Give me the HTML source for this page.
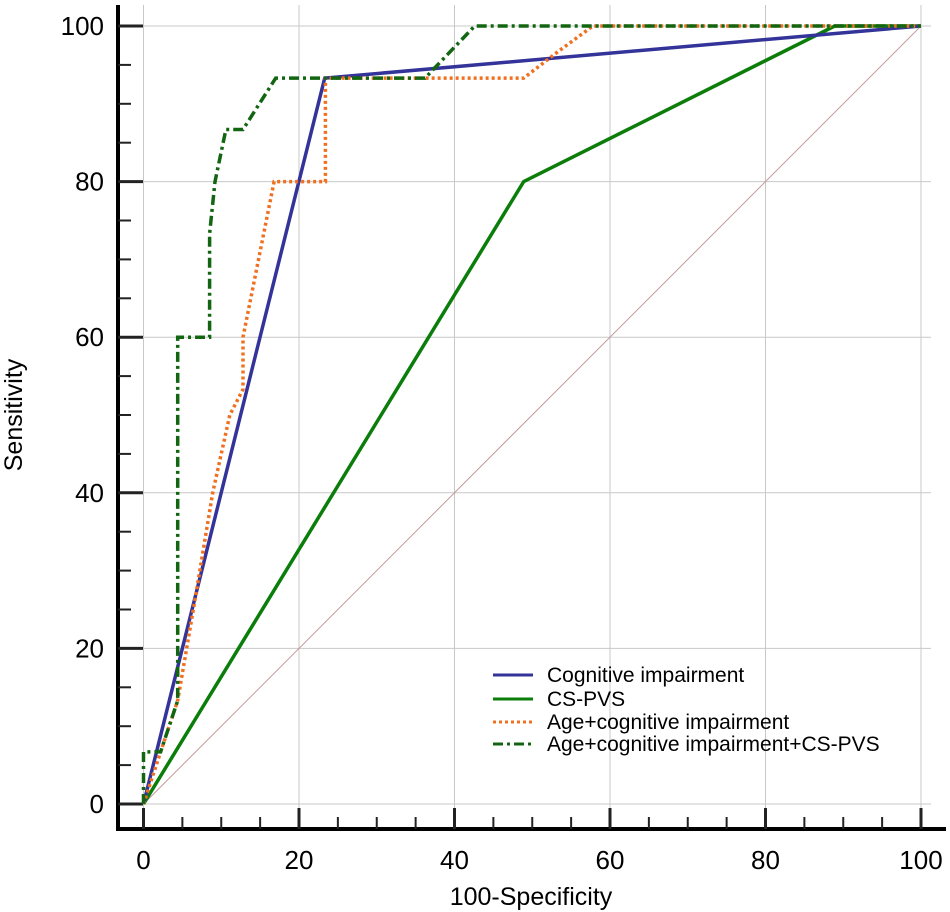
<!DOCTYPE html>
<html><head><meta charset="utf-8"><style>
html,body{margin:0;padding:0;background:#fff;}
svg{display:block;font-family:"Liberation Sans",Arial,sans-serif;}
</style></head><body>
<svg id="chart" width="950" height="912" viewBox="0 0 950 912" xmlns="http://www.w3.org/2000/svg"></svg>
<script>
const xTicks=[0,20,40,60,80,100];
const yTicks=[0,20,40,60,80,100];
const seriesNames=["Cognitive impairment","CS-PVS","Age+cognitive impairment","Age+cognitive impairment+CS-PVS"];
const cogX=[0,23.3,100];
const cogY=[0,93.3,100];
const csX=[0,48.9,88.9,100];
const csY=[0,80,100,100];
const ageX=[0,2.2,4.4,6.7,8.9,11.1,12.8,12.8,16.8,23.4,23.4,48.9,53.3,57.8,100];
const ageY=[0,6.7,13.3,26.7,40,50,53.3,60,80,80,93.3,93.3,96.7,100,100];
const allX=[0,0,2.2,4.4,4.4,8.5,8.5,9.2,10.6,12.8,17.0,36.2,42.6,100];
const allY=[0,6.7,6.7,13.3,60,60,73.3,80,86.7,86.7,93.3,93.3,100,100];

const svg=document.getElementById('chart');
const NS='http://www.w3.org/2000/svg';
const X0=143.5,X1=921,Y0=804,Y1=26;
function sx(v){return X0+(X1-X0)*v/100;}
function sy(v){return Y0-(Y0-Y1)*v/100;}
function mk(tag,attrs,parent){const e=document.createElementNS(NS,tag);for(const k in attrs)e.setAttribute(k,attrs[k]);(parent||svg).appendChild(e);return e;}

const grid=mk('g',{});


xTicks.forEach(t=>{mk('line',{x1:sx(t),x2:sx(t),y1:5,y2:Y0+8,stroke:'#c8c8c8','stroke-width':1},grid);});
yTicks.forEach(t=>{mk('line',{x1:X0-10,x2:X1+10,y1:sy(t),y2:sy(t),stroke:'#c8c8c8','stroke-width':1},grid);});

const diag=mk('line',{x1:sx(0),y1:sy(0),x2:sx(100),y2:sy(100),stroke:'#c49a9a','stroke-width':1});



const AX=118,AY=829;
const axes=mk('g',{});


mk('line',{x1:AX,x2:AX,y1:5,y2:AY+2,stroke:'#000','stroke-width':4},axes);
mk('line',{x1:AX-2,x2:X1+25,y1:AY,y2:AY,stroke:'#000','stroke-width':4},axes);
for(let v=0;v<=100;v+=5){
  const major=v%20===0;
  mk('line',{x1:AX,x2:AX+(major?25:13),y1:sy(v),y2:sy(v),stroke:'#222','stroke-width':major?3:2},axes);
  mk('line',{x1:sx(v),x2:sx(v),y1:AY,y2:AY-(major?21:12),stroke:'#222','stroke-width':major?3:2},axes);
}
xTicks.forEach(t=>{const e=mk('text',{x:sx(t),y:869,'font-size':26,'text-anchor':'middle',fill:'#000'});e.textContent=t;

});
yTicks.forEach(t=>{const e=mk('text',{x:104,y:sy(t)+9,'font-size':26,'text-anchor':'end',fill:'#000'});e.textContent=t;

});
const xt=mk('text',{x:531,y:905,'font-size':25,'text-anchor':'middle'});xt.textContent='100-Specificity';


const yt=mk('text',{x:0,y:0,'font-size':25,'text-anchor':'middle',transform:'translate(22,415) rotate(-90)'});yt.textContent='Sensitivity';



const styles=[
 {stroke:'#333399',w:3.5,dash:''},
 {stroke:'#0a7d0a',w:3.5,dash:''},
 {stroke:'#f07020',w:3.5,dash:'3,3'},
 {stroke:'#126612',w:3.5,dash:'10,4,3,4'}];
const data=[[cogX,cogY],[csX,csY],[ageX,ageY],[allX,allY]];
const order=[1,0,2,3];
const lineNames=['cognitive-impairment-line','cs-pvs-line','age-cognitive-line','age-cognitive-cspvs-line'];
order.forEach(i=>{
  const [xs,ys]=data[i];
  const pts=xs.map((x,j)=>sx(x).toFixed(1)+','+sy(ys[j]).toFixed(1)).join(' ');
  const p=mk('polyline',{points:pts,fill:'none',stroke:styles[i].stroke,'stroke-width':styles[i].w,'stroke-dasharray':styles[i].dash,'stroke-linejoin':'miter'});
  
  
});

const lg=mk('g',{});


const rows=[675,699,722,744];
seriesNames.forEach((n,i)=>{
  const g=mk('g',{},lg);
  
  
  mk('line',{x1:493,x2:533,y1:rows[i],y2:rows[i],stroke:styles[i].stroke,'stroke-width':3,'stroke-dasharray':styles[i].dash},g);
  const t=mk('text',{x:547,y:rows[i]+7,'font-size':21,fill:'#000'},g);t.textContent=n;
});
</script>
</body></html>
